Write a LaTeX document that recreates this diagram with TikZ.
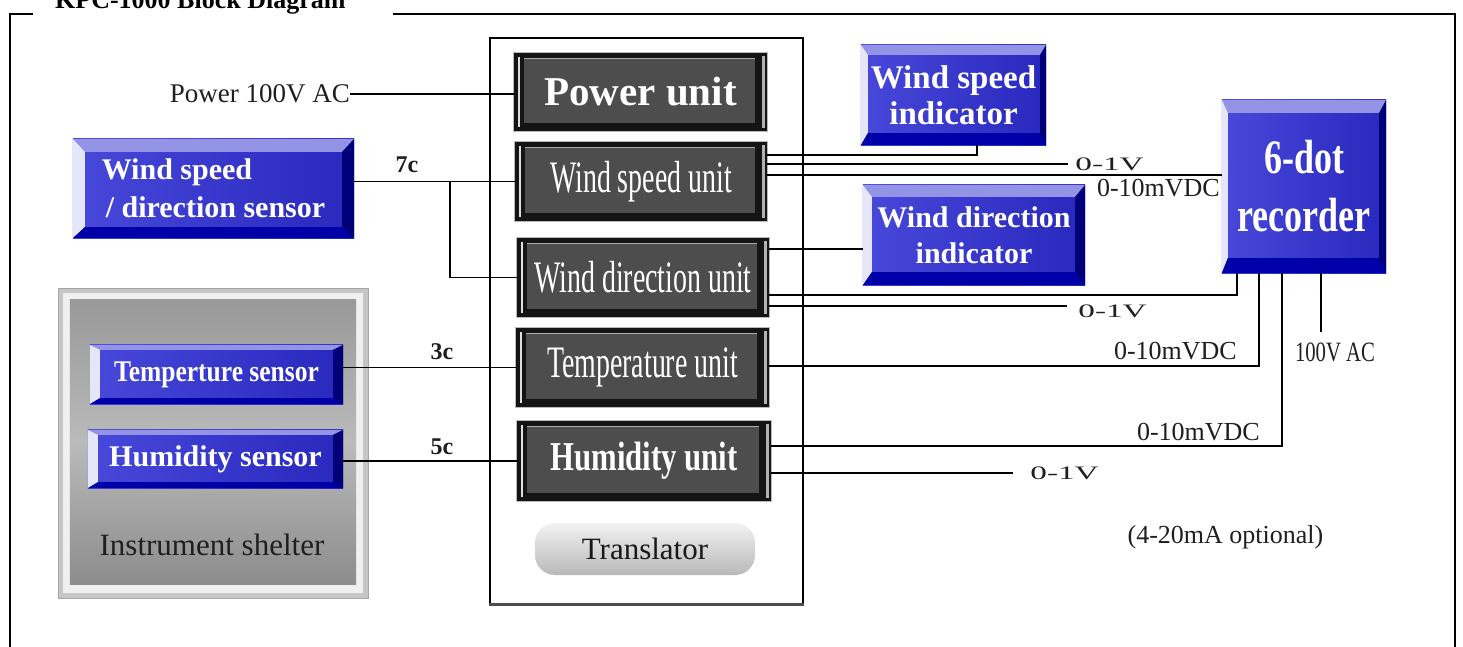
\documentclass[tikz,border=0pt]{standalone}
\usepackage{fontspec}
\setmainfont{Liberation Serif}
\newfontfamily\stA[FakeStretch=0.62]{Liberation Serif}
\newfontfamily\stB[FakeStretch=0.75]{Liberation Serif}
\newfontfamily\stC[FakeStretch=0.85]{Liberation Serif}
\newfontfamily\stD[FakeStretch=0.74]{Liberation Serif}
\newfontfamily\stW[FakeStretch=1.75]{Liberation Serif}
\usetikzlibrary{calc,backgrounds}
\definecolor{blight}{HTML}{4848DA}
\definecolor{bdark}{HTML}{2828BE}
\definecolor{btop}{HTML}{9494E6}
\definecolor{bleft}{HTML}{E6E6FA}
\definecolor{bbot}{HTML}{0000A8}
\definecolor{bright}{HTML}{000078}
\definecolor{ugray}{HTML}{4D4D4D}
\newcommand\bevelblue[5]{%
 \begin{pgfonlayer}{background}
 \path (#1.north west) coordinate (bA) (#1.north east) coordinate (bB)
       (#1.south east) coordinate (bC) (#1.south west) coordinate (bD);
 \shade[left color=blight,right color=bdark] (bA) rectangle (bC);
 \fill[btop] (bA) -- (bB) -- ($(bB)+(-#5,#2)$) -- ($(bA)+(#4,#2)$) -- cycle;
 \fill[bleft] (bA) -- ($(bA)+(#4,#2)$) -- ($(bD)+(#4,-#3)$) -- (bD) -- cycle;
 \fill[bbot] (bD) -- ($(bD)+(#4,-#3)$) -- ($(bC)+(-#5,-#3)$) -- (bC) -- cycle;
 \fill[bright] (bB) -- ($(bB)+(-#5,#2)$) -- ($(bC)+(-#5,-#3)$) -- (bC) -- cycle;
 \end{pgfonlayer}}
\newcommand\darkunit[1]{%
 \begin{pgfonlayer}{background}
 \path (#1.north west) coordinate (bA) (#1.south east) coordinate (bC);
 \fill[black!92, draw=gray!55, line width=1pt] (bA) rectangle (bC);
 \fill[ugray] ($(bA)+(10,6)$) rectangle ($(bC)+(-12,-8)$);
 \draw[gray!65, line width=1.2pt] ($(bA)+(10,6)$) -- ($(bA -| bC)+(-12,6)$);
 \draw[white!75!gray, line width=1.5pt] ($(bA)+(5,4)$) -- ($(bA |- bC)+(5,-4)$);
 \draw[gray!60, line width=3pt] ($(bA -| bC)+(-4,3)$) -- ($(bC)+(-4,-3)$);
 \end{pgfonlayer}}
\begin{document}
\begin{tikzpicture}[x=1pt,y=-1pt,
  lbl/.style={inner sep=0pt, text=black!88, font={\fontsize{26}{28}\selectfont}},
  wide/.style={inner sep=0pt, text=black!88, font={\stW\fontsize{19}{20}\selectfont}},
  conn/.style={line width=1.4pt, black},
  unitnode/.style={inner sep=0pt, text=white, align=center},
  bluenode/.style={inner sep=0pt, text=white, align=center}]
\useasboundingbox (0,0) rectangle (1463,647);
\begin{pgfonlayer}{background}
\fill[white] (0,0) rectangle (1463,647);
\end{pgfonlayer}
% frame and title
\draw[line width=2pt] (33,14) -| (10,648);
\draw[line width=2pt] (393,14) -| (1455,648);
\node[anchor=base west, inner sep=0pt, font={\fontsize{26}{28}\selectfont\bfseries}] (title) at (55,9) {KPC-1000 Block Diagram};
% translator box
\node[draw, line width=1.5pt, inner sep=0pt, minimum width=313pt, minimum height=566pt] (tbox) at (646.5,321) {};
\draw[gray!60!black, line width=3pt] (tbox.south west) -- (tbox.south east);
% units
\node[unitnode, minimum width=253pt, minimum height=78pt, font={\fontsize{41}{44}\selectfont\bfseries}] (pwru) at (640.5,92) {Power unit};
\darkunit{pwru}
\node[unitnode, minimum width=252pt, minimum height=79pt, font={\stA\fontsize{45}{48}\selectfont}] (wsu) at (641,181.5) {Wind speed unit};
\darkunit{wsu}
\node[unitnode, minimum width=252pt, minimum height=79pt, font={\stA\fontsize{45}{48}\selectfont}] (wdu) at (643,277.5) {Wind direction unit};
\darkunit{wdu}
\node[unitnode, minimum width=253pt, minimum height=79pt, font={\stA\fontsize{45}{48}\selectfont}] (tu) at (642.5,367.5) {Temperature unit};
\darkunit{tu}
\node[unitnode, minimum width=254pt, minimum height=80pt, font={\stB\fontsize{41}{44}\selectfont\bfseries}] (hu) at (644,461) {Humidity unit};
\darkunit{hu}
\node[inner sep=0pt, rounded corners=20pt, minimum width=220pt, minimum height=52pt, top color=gray!10, bottom color=gray!55, text=black!90, font={\fontsize{31}{33}\selectfont}] (trans) at (645,549) {Translator};
% shelter
\node[inner sep=0pt, minimum width=310pt, minimum height=310pt] (shelter) at (213,443) {};
\begin{pgfonlayer}{background}
\fill[gray!45, draw=gray!70] (shelter.north west) rectangle (shelter.south east);
\fill[gray!12] ($(shelter.north west)+(5,5)$) rectangle ($(shelter.south east)+(-5,-5)$);
\shade[top color=black!40, bottom color=black!45, middle color=black!27] ($(shelter.north west)+(12,12)$) rectangle ($(shelter.south east)+(-12,-14)$);
\end{pgfonlayer}
\node[inner sep=0pt, text=black!88, font={\fontsize{31}{33}\selectfont}] (shl) at (212,545) {Instrument shelter};
% blue boxes
\node[bluenode, minimum width=185pt, minimum height=100pt, font={\fontsize{33}{36}\selectfont\bfseries}] (wsi) at (953.5,95) {Wind speed\\indicator};
\bevelblue{wsi}{10}{12}{7}{6}
\node[bluenode, minimum width=222pt, minimum height=100pt, font={\fontsize{30}{36}\selectfont\bfseries}] (wdi) at (974,235) {Wind direction\\indicator};
\bevelblue{wdi}{12}{13}{9}{10}
\node[bluenode, minimum width=164pt, minimum height=173pt, font={\stB\fontsize{48}{58}\selectfont\bfseries}] (rec) at (1304,186.5) {6-dot\\recorder};
\bevelblue{rec}{13}{15}{6}{7}
\node[bluenode, align=left, minimum width=281pt, minimum height=99pt, font={\fontsize{30}{38}\selectfont\bfseries}] (sens) at (213.5,188.5) {Wind speed\\\hspace{4pt}/ direction sensor};
\bevelblue{sens}{13}{11}{12}{12}
\node[bluenode, minimum width=253pt, minimum height=59pt, font={\stC\fontsize{30}{32}\selectfont\bfseries}] (ts) at (216.5,374.5) {Temperture sensor};
\bevelblue{ts}{5}{6}{10}{10}
\node[bluenode, minimum width=255pt, minimum height=58pt, font={\fontsize{30}{32}\selectfont\bfseries}] (hs) at (215.5,459) {Humidity sensor};
\bevelblue{hs}{5}{6}{10}{10}
% left connectors
\node[lbl, anchor=east, font={\fontsize{27}{29}\selectfont}] (plab) at (350,94) {Power 100V AC};
\draw[conn] (plab.east) -- (plab.east -| pwru.west);
\draw[conn] (sens.east |- wsu.west) -- (wsu.west);
\draw[conn] ($(wsu.west)+(-65,0)$) |- (wdu.west);
\node[lbl, font={\fontsize{24}{26}\selectfont\bfseries}] (c7) at (407,165) {7c};
\draw[conn] (ts.east |- tu.west) -- (tu.west);
\node[lbl, font={\fontsize{24}{26}\selectfont\bfseries}] (c3) at (442,352) {3c};
\draw[conn] (hs.east |- hu.west) -- (hu.west);
\node[lbl, font={\fontsize{24}{26}\selectfont\bfseries}] (c5) at (442,447) {5c};
% right connectors
\draw[conn] ($(wsu.east)+(0,-26.5)$) -| ($(wsi.south)+(23.5,0)$);
\draw[conn] ($(wsu.east)+(0,-17.5)$) -- ++(301,0) coordinate (e1);
\node[wide, anchor=west] (v1) at ($(e1)+(7,0)$) {0-1V};
\draw[conn] ($(wsu.east)+(0,-6.5)$) coordinate (w3) -- (w3 -| rec.west);
\node[lbl, anchor=east] (m1) at (1220,188) {0-10mVDC};
\draw[conn] ($(wdu.east)+(0,-28.5)$) coordinate (d1) -- (d1 -| wdi.west);
\draw[conn] ($(wdu.east)+(0,17.5)$) -| ($(rec.south)+(-67,0)$);
\draw[conn] ($(wdu.east)+(0,28.5)$) -- ++(298,0) coordinate (e2);
\node[wide, anchor=west] (v2) at ($(e2)+(11,5)$) {0-1V};
\draw[conn] ($(tu.east)+(0,-1.5)$) -| ($(rec.south)+(-45,0)$);
\node[lbl, anchor=east] (m2) at (1237,351) {0-10mVDC};
\draw[conn] ($(hu.east)+(0,-15)$) -| ($(rec.south)+(-22,0)$);
\node[lbl, anchor=east] (m3) at (1260,432) {0-10mVDC};
\draw[conn] ($(hu.east)+(0,12)$) -- ++(242,0) coordinate (e3);
\node[wide, anchor=west] (v3) at ($(e3)+(17,0)$) {0-1V};
\draw[conn] ($(rec.south)+(17,0)$) -- ++(0,59) coordinate (e4);
\node[lbl, font={\stD\fontsize{28}{30}\selectfont}] (acl) at (1335,352) {100V AC};
\node[lbl] (opt) at (1225.5,537) {(4-20mA optional)};
\end{tikzpicture}
\end{document}
